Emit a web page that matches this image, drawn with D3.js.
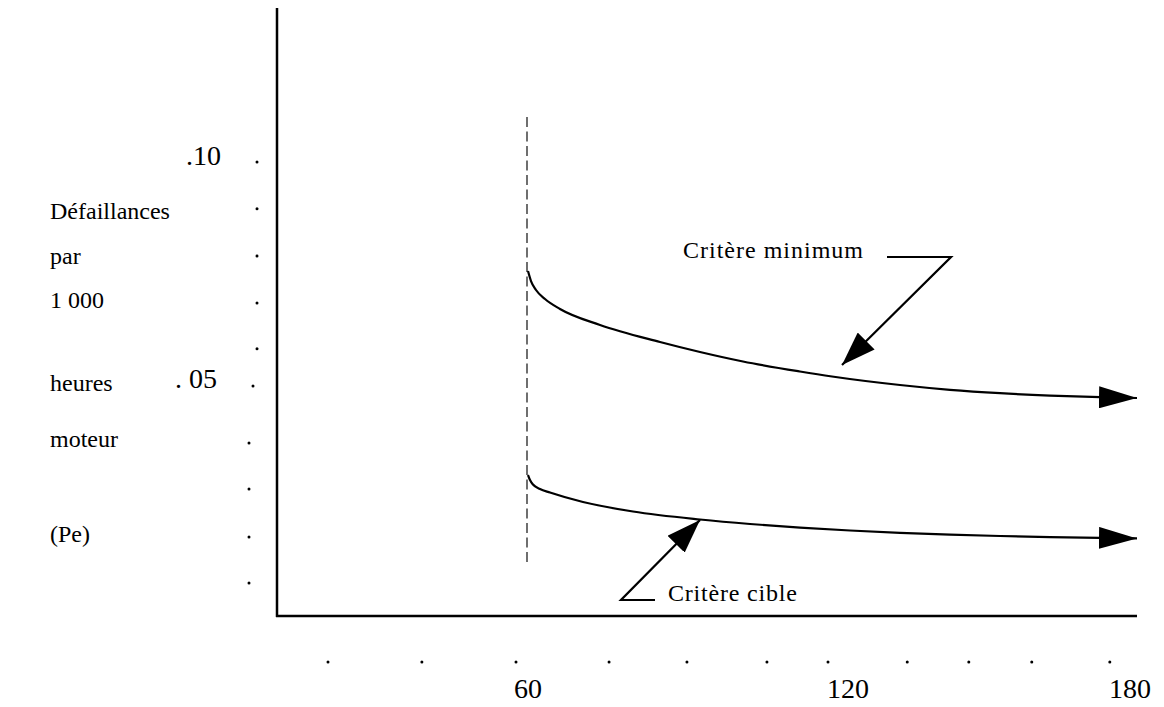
<!DOCTYPE html>
<html><head><meta charset="utf-8">
<script src="https://cdn.jsdelivr.net/npm/d3@7"></script>
<style>body{margin:0;background:#fff}svg{display:block}</style>
</head><body>
<svg id="c" width="1164" height="707"></svg>
<script>
// ---- data ----
const xTickValues = [60, 120, 180];
const xTickLabels = ["60", "120", "180"];
const xMinorDots = [22.5, 40.1, 57.75, 75.2, 89.8, 104.8, 116.25, 132.6, 145.7, 159.1, 175.7];
const yTickValues = [0.10, 0.05];
const yTickLabels = [".10", ". 05"];
const yMinorDots = [0.1, 0.0895, 0.0789, 0.0684, 0.0581, 0.0498, 0.0370, 0.0267, 0.0159, 0.0056];
const yTitleLines = ["Défaillances", "par", "1 000", "heures", "moteur", "(Pe)"];
const yTitleValues = [0.0890, 0.0790, 0.0690, 0.0505, 0.0378, 0.0165];
const startX = 60;
const dashedRange = [0.0094, 0.1101];
const seriesMinX = [60, 60.5625, 61.5, 63.1875, 66, 73.5, 84.75, 92.25, 100.3125, 111, 117, 131.064, 141.702, 152.340, 162.979, 173.617, 181.489];
const seriesMinY = [0.075561, 0.073318, 0.071300, 0.069283, 0.067040, 0.063453, 0.059641, 0.057399, 0.055269, 0.053027, 0.051906, 0.05, 0.048924, 0.048161, 0.047623, 0.047265, 0.047085];
const seriesCibX = [60, 60.375, 60.9375, 62.25, 64.125, 70.3125, 79.6875, 92.25, 101.625, 111, 120.426, 131.064, 141.702, 152.340, 162.979, 173.617, 181.489];
const seriesCibY = [0.029821, 0.028700, 0.027691, 0.026682, 0.025897, 0.023767, 0.021637, 0.019843, 0.018834, 0.018027, 0.017377, 0.016861, 0.016457, 0.016143, 0.015897, 0.015717, 0.015605];
const annMinLabel = "Critère minimum";
const annCibLabel = "Critère cible";

// ---- layout ----
const svg = d3.select("#c");
const x = d3.scaleLinear().domain([60, 120, 180]).range([528, 848, 1130]);
const y = d3.scaleLinear().domain([0, 0.1]).range([608, 162]);
const axisX = 277, axisBottom = 616, axisTop = 8, axisRight = 1137;
const serif = "'Liberation Serif', 'Times New Roman', serif";

// markers
const defs = svg.append("defs");
function marker(id, len, w) {
  defs.append("marker").attr("id", id).attr("markerUnits", "userSpaceOnUse")
    .attr("viewBox", `0 0 ${len} ${w}`).attr("markerWidth", len).attr("markerHeight", w)
    .attr("refX", len).attr("refY", w / 2).attr("orient", "auto")
    .append("path").attr("d", `M0,0L${len},${w / 2}L0,${w}Z`).attr("fill", "#000");
}
marker("endArrow", 38, 22);
marker("annArrow", 34, 24);

// axes
svg.append("line").attr("x1", axisX).attr("x2", axisX).attr("y1", axisTop).attr("y2", axisBottom + 1)
  .attr("stroke", "#000").attr("stroke-width", 2.5);
svg.append("line").attr("x1", axisX - 1).attr("x2", axisRight).attr("y1", axisBottom).attr("y2", axisBottom)
  .attr("stroke", "#000").attr("stroke-width", 2.5);

// x minor dots and labels
svg.selectAll(".xd").data(xMinorDots).join("circle").attr("class", "xd")
  .attr("cx", d => x(d)).attr("cy", 662).attr("r", 1.5).attr("fill", "#000");
svg.selectAll(".xl").data(xTickValues).join("text").attr("class", "xl")
  .attr("x", d => x(d)).attr("y", 698).attr("text-anchor", "middle")
  .attr("font-family", serif).attr("font-size", 28).text((d, i) => xTickLabels[i]);

// y minor dots and labels
svg.selectAll(".yd").data(yMinorDots).join("circle").attr("class", "yd")
  .attr("cx", d => d > 0.055 ? 257 : (d > 0.045 ? 253 : 249)).attr("cy", d => y(d)).attr("r", 1.5).attr("fill", "#000");
svg.selectAll(".yl").data(yTickValues).join("text").attr("class", "yl")
  .attr("x", (d, i) => i === 0 ? 221 : 217).attr("y", d => y(d) + 3).attr("text-anchor", "end")
  .attr("font-family", serif).attr("font-size", 28).text((d, i) => yTickLabels[i]);

// y title lines
svg.selectAll(".yt").data(yTitleLines).join("text").attr("class", "yt")
  .attr("x", 50).attr("y", (d, i) => y(yTitleValues[i]) + 8)
  .attr("font-family", serif).attr("font-size", 24).text(d => d);

// dashed vertical line
svg.append("line").attr("x1", x(startX) - 1).attr("x2", x(startX) - 1)
  .attr("y1", y(dashedRange[1])).attr("y2", y(dashedRange[0]))
  .attr("stroke", "#222").attr("stroke-width", 1.3).attr("stroke-dasharray", "10,4.5");

// curves
const line = d3.line().x(d => x(d[0])).y(d => y(d[1])).curve(d3.curveMonotoneX);
svg.append("path").datum(d3.zip(seriesMinX, seriesMinY)).attr("d", line)
  .attr("fill", "none").attr("stroke", "#000").attr("stroke-width", 2.2).attr("marker-end", "url(#endArrow)");
svg.append("path").datum(d3.zip(seriesCibX, seriesCibY)).attr("d", line)
  .attr("fill", "none").attr("stroke", "#000").attr("stroke-width", 2.2).attr("marker-end", "url(#endArrow)");

// annotations
svg.append("text").attr("x", 683).attr("y", 258).attr("font-family", serif).attr("font-size", 24)
  .attr("letter-spacing", 1).text(annMinLabel);
svg.append("polyline").attr("points", "887,257 951,257 842,365").attr("fill", "none")
  .attr("stroke", "#000").attr("stroke-width", 2.2).attr("marker-end", "url(#annArrow)");
svg.append("text").attr("x", 668).attr("y", 601).attr("font-family", serif).attr("font-size", 24)
  .attr("letter-spacing", 0.8).text(annCibLabel);
svg.append("polyline").attr("points", "655,600 621,600 700,520").attr("fill", "none")
  .attr("stroke", "#000").attr("stroke-width", 2.2).attr("marker-end", "url(#annArrow)");
</script>
</body></html>
